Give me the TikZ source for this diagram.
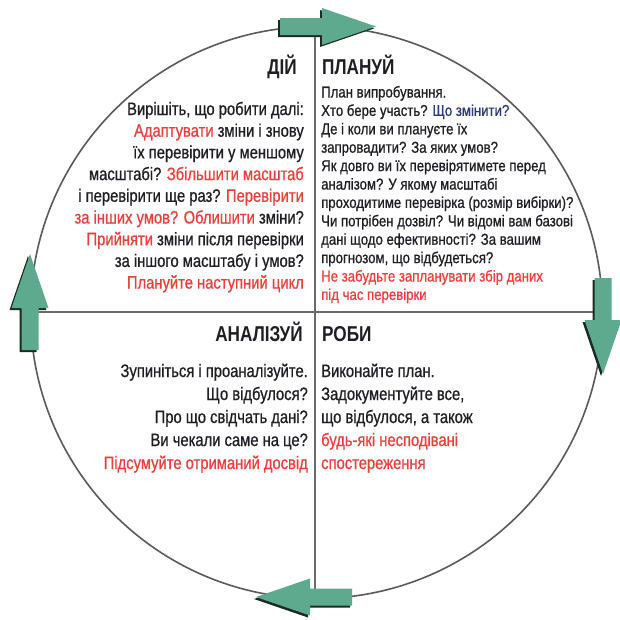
\documentclass[tikz,border=0pt]{standalone}
\usepackage{fontspec}
\setmainfont{Liberation Sans}
% condensed cuts of Liberation Sans for the quadrant texts
\newfontfamily\quadfont[FakeStretch=0.82,FakeBold=0.8]{Liberation Sans}
\newfontfamily\planfont[FakeStretch=0.84,FakeBold=0.8]{Liberation Sans}
\newfontfamily\headfont[FakeStretch=0.80]{Liberation Sans}

\definecolor{ink}{HTML}{1E1E24}
\definecolor{hot}{HTML}{E8413C}
\definecolor{navy}{HTML}{2B3A7A}
\definecolor{arrowgreen}{HTML}{5DAA8E}
\definecolor{arrowdark}{HTML}{1A2A24}
\definecolor{rim}{HTML}{5A5A5A}
\definecolor{divider}{HTML}{6A6A6A}

\newcommand\redtxt[1]{\textcolor{hot}{#1}}
\newcommand\navytxt[1]{\textcolor{navy}{#1}}

\tikzset{
  txt/.style={inner sep=0pt, text=ink},
  lefttxt/.style={txt, anchor=base east, font=\quadfont\fontsize{18}{18}\selectfont},
  righttxt/.style={txt, anchor=base west, font=\quadfont\fontsize{18}{18}\selectfont},
  plantxt/.style={txt, anchor=base west, font=\planfont\fontsize{15.7}{15.7}\selectfont},
  headL/.style={txt, anchor=base east, font=\headfont\bfseries\fontsize{21.5}{21.5}\selectfont},
  headR/.style={txt, anchor=base west, font=\headfont\bfseries\fontsize{21.5}{21.5}\selectfont},
  rimline/.style={draw=rim, line width=1.6pt},
  divline/.style={draw=divider, line width=2.2pt},
  % block arrow pointing along local +x, origin at the base of the head
  pics/blockarrow/.style={code={
    \fill[#1] (-42,-8.5) -- (0,-8.5) -- (0,-18.5) -- (54,0) -- (0,18.5) -- (0,8.5) -- (-42,8.5) -- cycle;
  }},
}

\begin{document}
\begin{tikzpicture}[x=1pt,y=-1pt]
\fill[white] (0,0) rectangle (620,619);
\useasboundingbox (0,0) rectangle (620,619);

% cycle outline and quadrant dividers
\coordinate (c) at (316.5,312.5);
\draw[rimline] (c) circle[radius=286];
\coordinate (vtop) at (315,30);
\coordinate (vbot) at (315,596);
\coordinate (hleft) at (31,312);
\coordinate (hright) at (602,312);
\draw[divline] (vtop) -- (vbot);
\draw[divline] (hleft) -- (hright);

% clockwise arrows with a dark drop shadow
\pic[rotate=0]   at (320,28.5)  {blockarrow=arrowdark};
\pic[rotate=0]   at (322,26.5)  {blockarrow=arrowgreen};
\pic[rotate=-90] at (601,322)   {blockarrow=arrowdark};
\pic[rotate=-90] at (603,320)   {blockarrow=arrowgreen};
\pic[rotate=180] at (308,599)   {blockarrow=arrowdark};
\pic[rotate=180] at (310,597)   {blockarrow=arrowgreen};
\pic[rotate=90]  at (28,310)    {blockarrow=arrowdark};
\pic[rotate=90]  at (30,308)    {blockarrow=arrowgreen};

% headings
\node[headL] (act) at (297,74) {ДІЙ};
\node[headR] (plan) at (322,74) {ПЛАНУЙ};
\node[headL] (study) at (303,341) {АНАЛІЗУЙ};
\node[headR] (do) at (322,341) {РОБИ};

% ДІЙ
\node[lefttxt] (act1) at (304,115.0) {Вирішіть, що робити далі:};
\node[lefttxt] (act2) at (304,136.7) {\redtxt{Адаптувати} зміни і знову};
\node[lefttxt] (act3) at (304,158.4) {їх перевірити у меншому};
\node[lefttxt] (act4) at (304,180.1) {масштабі? \redtxt{Збільшити масштаб}};
\node[lefttxt] (act5) at (304,201.8) {і перевірити ще раз? \redtxt{Перевірити}};
\node[lefttxt] (act6) at (304,223.5) {\redtxt{за інших умов? Облишити} зміни?};
\node[lefttxt] (act7) at (304,245.2) {\redtxt{Прийняти} зміни після перевірки};
\node[lefttxt] (act8) at (304,266.9) {за іншого масштабу і умов?};
\node[lefttxt] (act9) at (304,288.6) {\redtxt{Плануйте наступний цикл}};

% ПЛАНУЙ
\node[plantxt] (plan1)  at (321,97.5)  {План випробування.};
\node[plantxt] (plan2)  at (321,115.9) {Хто бере участь? \navytxt{Що змінити?}};
\node[plantxt] (plan3)  at (321,134.3) {Де і коли ви плануєте їх};
\node[plantxt] (plan4)  at (321,152.7) {запровадити? За яких умов?};
\node[plantxt] (plan5)  at (321,171.1) {Як довго ви їх перевірятимете перед};
\node[plantxt] (plan6)  at (321,189.5) {аналізом? У якому масштабі};
\node[plantxt] (plan7)  at (321,207.9) {проходитиме перевірка (розмір вибірки)?};
\node[plantxt] (plan8)  at (321,226.3) {Чи потрібен дозвіл? Чи відомі вам базові};
\node[plantxt] (plan9)  at (321,244.7) {дані щодо ефективності? За вашим};
\node[plantxt] (plan10) at (321,263.1) {прогнозом, що відбудеться?};
\node[plantxt] (plan11) at (321,281.5) {\redtxt{Не забудьте запланувати збір даних}};
\node[plantxt] (plan12) at (321,299.9) {\redtxt{під час перевірки}};

% АНАЛІЗУЙ
\node[lefttxt] (study1) at (308,377) {Зупиніться і проаналізуйте.};
\node[lefttxt] (study2) at (308,400) {Що відбулося?};
\node[lefttxt] (study3) at (308,423) {Про що свідчать дані?};
\node[lefttxt] (study4) at (308,446) {Ви чекали саме на це?};
\node[lefttxt] (study5) at (308,469) {\redtxt{Підсумуйте отриманий досвід}};

% РОБИ
\node[righttxt] (do1) at (321,377) {Виконайте план.};
\node[righttxt] (do2) at (321,400) {Задокументуйте все,};
\node[righttxt] (do3) at (321,423) {що відбулося, а також};
\node[righttxt] (do4) at (321,446) {\redtxt{будь-які несподівані}};
\node[righttxt] (do5) at (321,469) {\redtxt{спостереження}};
\end{tikzpicture}
\end{document}
